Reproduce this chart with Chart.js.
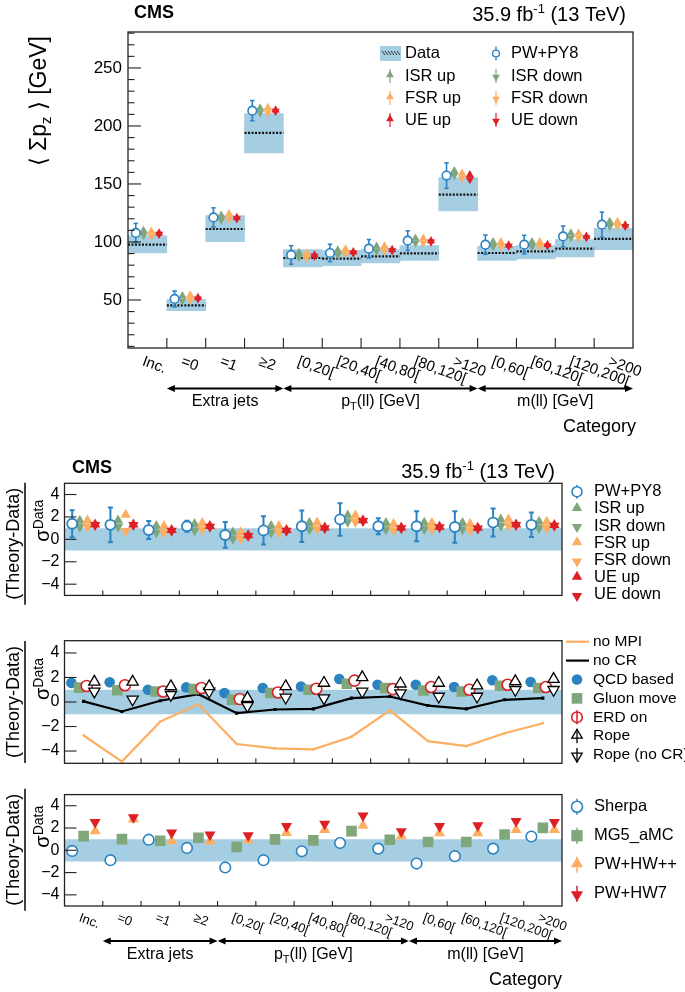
<!DOCTYPE html>
<html>
<head>
<meta charset="utf-8">
<script src="https://cdn.jsdelivr.net/npm/chart.js@4.4.1/dist/chart.umd.min.js"></script>
<style>
  body { margin: 0; background: #fff; }
  #wrap { position: relative; width: 685px; height: 992px; }
  canvas { position: absolute; left: 0; }
</style>
</head>
<body>
<div id="wrap">
  <canvas id="main" width="685" height="440" style="top:0px"></canvas>
  <canvas id="r1" width="685" height="170" style="top:440px"></canvas>
  <canvas id="r2" width="685" height="170" style="top:610px"></canvas>
  <canvas id="r3" width="685" height="212" style="top:780px"></canvas>
</div>
<script>
// ---- categories / tick labels ----
const categories = ['Inc.', '=0', '=1', '\u22652', '[0,20[', '[20,40[', '[40,80[', '[80,120[', '>120', '[0,60[', '[60,120[', '[120,200[', '>200'];
const groupNames = ['Extra jets', 'pT(ll) [GeV]', 'm(ll) [GeV]'];
const groupFrom = [1, 4, 9];
const groupTo = [4, 9, 13];
const topTicks = [50, 100, 150, 200, 250];
const ratioTicks = [-4, -2, 0, 2, 4];
const sigmaBand = [-1, 1];

// ---- top panel: <sum pz> [GeV] ----
const dataVal = [97.7, 45.3, 111.2, 194.0, 86.2, 85.6, 87.6, 90.2, 140.8, 90.5, 91.9, 94.2, 102.6];
const dataLo  = [90.5, 40.8, 100.3, 176.7, 78.4, 79.6, 81.9, 84.1, 126.7, 84.1, 85.3, 87.1, 93.4];
const dataHi  = [105.2, 50.3, 122.7, 210.6, 93.4, 92.5, 93.4, 96.8, 155.4, 96.2, 96.8, 102.0, 111.7];
const pwpy8    = [107.8, 50.9, 121.2, 213.2, 88.8, 90.5, 94.2, 101.1, 157.2, 97.7, 97.7, 104.8, 114.9];
const pwpy8Err = [8.2, 6.8, 8.2, 8.7, 8.0, 7.5, 7.9, 8.5, 11.0, 8.3, 8.0, 8.9, 10.8];
const isrUp   = [109.8, 53.5, 123.0, 215.4, 90.8, 93.0, 96.2, 103.1, 161.3, 100.1, 100.1, 107.6, 117.5];
const isrDown = [105.8, 49.5, 119.0, 211.4, 86.8, 89.0, 92.2, 99.1, 157.3, 96.1, 96.1, 103.6, 113.5];
const fsrUp   = [109.2, 54.3, 124.3, 215.9, 90.2, 93.9, 96.5, 103.1, 159.2, 100.1, 100.1, 107.6, 117.5];
const fsrDown = [105.2, 50.3, 119.8, 211.4, 86.2, 89.9, 92.5, 99.1, 155.2, 96.1, 96.1, 103.6, 113.5];
const ueUp    = [107.7, 52.0, 121.0, 213.7, 88.7, 91.5, 93.5, 101.0, 157.8, 97.4, 97.7, 104.8, 114.5];
const ueDown  = [106.7, 51.0, 120.0, 212.7, 87.7, 90.5, 92.5, 100.0, 153.8, 96.4, 96.7, 103.8, 113.5];

// ---- ratio panel 1: PW+PY8 and variations ----
const rPw      = [1.39, 1.30, 0.83, 1.17, 0.39, 0.80, 1.17, 1.78, 1.17, 1.17, 1.10, 1.50, 1.30];
const rPwErr   = [1.20, 1.55, 0.80, 0.50, 1.15, 1.25, 1.40, 1.45, 0.72, 1.33, 1.40, 1.25, 1.10];
const rIsrUp   = [1.67, 1.68, 1.18, 1.38, 0.61, 1.18, 1.45, 2.13, 1.45, 1.48, 1.45, 1.78, 1.58];
const rIsrDown = [1.11, 1.12, 0.62, 0.82, 0.05, 0.62, 0.89, 1.57, 0.89, 0.92, 0.89, 1.22, 1.02];
const rFsrUp   = [1.68, 2.20, 1.18, 1.45, 0.63, 1.18, 1.50, 2.13, 1.38, 1.45, 1.38, 1.78, 1.58];
const rFsrDown = [1.12, 0.75, 0.62, 0.89, 0.07, 0.62, 0.94, 1.57, 0.82, 0.89, 0.82, 1.22, 1.02];
const rUeUp    = [1.33, 1.33, 0.83, 1.18, 0.36, 0.83, 1.06, 1.70, 1.06, 1.13, 1.03, 1.33, 1.28];
const rUeDown  = [1.27, 1.27, 0.77, 1.12, 0.30, 0.77, 1.00, 1.64, 1.00, 1.07, 0.97, 1.27, 1.22];

// ---- ratio panel 2: colour reconnection / MPI ----
const noMPI    = [-2.73, -4.86, -1.60, -0.18, -3.43, -3.78, -3.86, -2.83, -0.69, -3.19, -3.60, -2.55, -1.73];
const noCR     = [0.05, -0.77, 0.10, 0.64, -0.91, -0.61, -0.56, 0.32, 0.45, -0.29, -0.56, 0.18, 0.32];
const qcdBased = [1.56, 1.61, 1.00, 1.19, 0.73, 1.14, 1.27, 1.87, 1.41, 1.41, 1.22, 1.77, 1.63];
const gluonMove= [1.17, 0.96, 0.86, 1.05, 0.18, 0.73, 1.00, 1.49, 1.14, 0.94, 0.86, 1.33, 1.14];
const erdOn    = [1.31, 1.37, 0.86, 1.14, 0.24, 0.78, 1.08, 1.74, 1.05, 1.22, 1.00, 1.41, 1.22];
const rope     = [1.64, 1.64, 1.27, 1.27, 0.32, 1.27, 1.55, 2.01, 1.49, 1.55, 1.33, 1.68, 1.87];
const ropeNoCR = [0.87, 0.22, 0.59, 0.86, -0.31, 0.37, 0.32, 0.86, 0.73, 0.45, 0.45, 1.00, 1.00];

// ---- ratio panel 3: other generators ----
const sherpa = [-0.06, -0.89, 0.95, 0.21, -1.54, -0.89, -0.09, 0.65, 0.15, -1.19, -0.53, 0.15, 1.24];
const mg5    = [1.27, 1.00, 0.86, 1.13, 0.30, 0.98, 0.89, 1.72, 0.95, 0.74, 0.74, 1.42, 2.01];
const pwHwpp = [1.72, 2.78, 0.83, 0.80, 0.89, 1.57, 1.84, 2.22, 1.27, 1.54, 1.54, 1.84, 1.84];
const pwHw7  = [2.52, 2.96, 1.57, 1.39, 1.33, 2.16, 2.37, 3.11, 1.69, 2.16, 2.22, 2.61, 2.52];

const FONT = '"Liberation Sans", Arial, Helvetica, sans-serif';
const W = 685;
const C = {
  band: '#a6cee3',
  blue: '#2b83c2',
  green: '#7fa77b',
  orange: '#fdae61',
  red: '#dd1f26',
  frame: '#222'
};

function pts(vals, off) {
  return vals.map((v, i) => ({ x: i + off, y: v }));
}

function marker(label, vals, off, style, r, fill, stroke, bw, rot) {
  return {
    type: 'line', label: label, data: pts(vals, off), showLine: false,
    pointStyle: style, pointRadius: r, pointRotation: rot || 0,
    pointBackgroundColor: fill, pointBorderColor: stroke, pointBorderWidth: bw
  };
}

function errBars(vals, errs, off, color, lw, cap) {
  const d = [];
  vals.forEach((v, i) => {
    d.push({ x: i + off, y: v - errs[i] }, { x: i + off, y: v + errs[i] }, { x: i + off, y: null });
  });
  return {
    type: 'line', data: d, borderColor: color, borderWidth: lw, spanGaps: false,
    pointStyle: 'line', pointRadius: cap, pointBorderWidth: lw, pointBorderColor: color
  };
}

function curve(vals, color, lw, pr) {
  return {
    type: 'line', data: pts(vals, 0.5), borderColor: color, borderWidth: lw,
    pointStyle: 'rect', pointRadius: pr, pointBackgroundColor: color, pointBorderWidth: 0, tension: 0
  };
}

function band() {
  return {
    type: 'line', data: [{ x: 0, y: sigmaBand[1] }, { x: 13, y: sigmaBand[1] }],
    fill: { value: sigmaBand[0] }, backgroundColor: C.band, borderWidth: 0, pointRadius: 0
  };
}

function baseOptions(H, a, yOpts) {
  const y = Object.assign({
    type: 'linear',
    grid: { display: false, drawTicks: false },
    border: { display: false },
    afterFit: s => { s.width = a.left; }
  }, yOpts);
  return {
    responsive: false, animation: false, devicePixelRatio: 1, events: [],
    layout: { padding: { left: 0, top: a.top, right: W - a.right, bottom: H - a.bottom } },
    plugins: { legend: { display: false }, tooltip: { enabled: false } },
    scales: { x: { type: 'linear', min: 0, max: 13, display: false, offset: false }, y: y }
  };
}

function line(ctx, x1, y1, x2, y2) {
  ctx.beginPath(); ctx.moveTo(x1, y1); ctx.lineTo(x2, y2); ctx.stroke();
}

// text made of pieces: [text, font, dy]
function rich(ctx, x, y, parts, align) {
  ctx.textAlign = 'left';
  let w = 0;
  parts.forEach(p => { ctx.font = p[1]; w += ctx.measureText(p[0]).width; });
  let cx = align === 'right' ? x - w : align === 'center' ? x - w / 2 : x;
  parts.forEach(p => {
    ctx.font = p[1];
    ctx.fillText(p[0], cx, y + (p[2] || 0));
    cx += ctx.measureText(p[0]).width;
  });
}

function sym(ctx, style, x, y, r, fill, stroke, bw) {
  ctx.save();
  ctx.beginPath();
  if (style === 'circle') {
    ctx.arc(x, y, r, 0, Math.PI * 2);
  } else if (style === 'rect') {
    const s = r * Math.SQRT1_2;
    ctx.rect(x - s, y - s, 2 * s, 2 * s);
  } else {
    const dir = style === 'up' ? 1 : -1;
    ctx.moveTo(x, y - dir * r);
    ctx.lineTo(x + r * 0.866, y + dir * r / 2);
    ctx.lineTo(x - r * 0.866, y + dir * r / 2);
    ctx.closePath();
  }
  if (fill) { ctx.fillStyle = fill; ctx.fill(); }
  if (bw) { ctx.lineWidth = bw; ctx.strokeStyle = stroke; ctx.stroke(); }
  ctx.restore();
}

const framePlugin = {
  id: 'frame',
  afterDraw(chart, args, o) {
    const { ctx, chartArea: a, scales: { x, y } } = chart;
    ctx.save();
    ctx.strokeStyle = C.frame;
    ctx.lineWidth = 1.3;
    ctx.strokeRect(a.left, a.top, a.right - a.left, a.bottom - a.top);
    ctx.lineWidth = 1.1;
    for (let i = 1; i < categories.length; i++) {
      const px = x.getPixelForValue(i);
      line(ctx, px, a.bottom, px, a.bottom - o.xTick);
    }
    o.major.forEach(v => { const py = y.getPixelForValue(v); line(ctx, a.left, py, a.left + o.yMajor, py); });
    (o.minor || []).forEach(v => { const py = y.getPixelForValue(v); line(ctx, a.left, py, a.left + o.yMinor, py); });
    ctx.restore();
  }
};

function drawCategoryAxis(chart, c) {
  const { ctx, scales: { x } } = chart;
  ctx.save();
  ctx.fillStyle = '#000';
  ctx.font = c.catFont + 'px ' + FONT;
  ctx.textBaseline = 'top';
  ctx.textAlign = 'left';
  categories.forEach((t, i) => {
    const px = x.getPixelForValue(i + 0.5);
    ctx.save();
    ctx.translate(px - 2, c.catTop);
    ctx.rotate(20 * Math.PI / 180);
    ctx.fillText(t, 0, 0);
    ctx.restore();
  });
  ctx.strokeStyle = '#000';
  ctx.lineWidth = 2;
  ctx.textBaseline = 'middle';
  groupNames.forEach((g, k) => {
    const x1 = x.getPixelForValue(groupFrom[k]);
    const x2 = x.getPixelForValue(groupTo[k]);
    line(ctx, x1 + 3, c.arrowY, x2 - 3, c.arrowY);
    [[x1, 1], [x2, -1]].forEach(([xx, d]) => {
      ctx.beginPath();
      ctx.moveTo(xx, c.arrowY);
      ctx.lineTo(xx + d * 8, c.arrowY - 3.5);
      ctx.lineTo(xx + d * 8, c.arrowY + 3.5);
      ctx.closePath();
      ctx.fill();
    });
    const f = '16px ' + FONT, fs = '11px ' + FONT;
    const parts = g.indexOf('pT') === 0 ? [['p', f], ['T', fs, 5], [g.slice(2), f]] : [[g, f]];
    rich(ctx, (x1 + x2) / 2, c.groupY, parts, 'center');
  });
  ctx.textBaseline = 'middle';
  ctx.font = '18px ' + FONT;
  ctx.textAlign = 'right';
  ctx.fillText('Category', c.catRight, c.categoryY);
  ctx.restore();
}

function ratioTitle(ctx, yc) {
  ctx.save();
  ctx.fillStyle = '#000';
  ctx.strokeStyle = '#000';
  ctx.translate(0, yc);
  ctx.rotate(-Math.PI / 2);
  ctx.textBaseline = 'alphabetic';
  rich(ctx, 0, 19, [['(Theory-Data)', '18px ' + FONT]], 'center');
  ctx.lineWidth = 1.5;
  line(ctx, -61, 25, 61, 25);
  rich(ctx, 2, 49, [['\u03c3', '20px ' + FONT], ['Data', '14px ' + FONT, -6]], 'left');
  ctx.restore();
}

function legendRows(ctx, rows, mx, tx, y0, dy, fpx) {
  ctx.save();
  ctx.fillStyle = '#000';
  ctx.textBaseline = 'middle';
  rows.forEach((r, k) => {
    const y = y0 + k * dy;
    r.draw(ctx, mx, y);
    ctx.fillStyle = '#000';
    ctx.font = (fpx || 16.5) + 'px ' + FONT;
    ctx.textAlign = 'left';
    ctx.fillText(r.t, tx, y);
  });
  ctx.restore();
}

function yRatio() {
  return {
    min: -5, max: 5,
    afterBuildTicks: s => { s.ticks = ratioTicks.map(v => ({ value: v })); },
    ticks: { padding: 5, color: '#000', font: { family: FONT, size: 16 },
      callback: v => (v < 0 ? '\u2212' + Math.abs(v) : '' + v) }
  };
}

function lumi(ctx, x, y) {
  rich(ctx, x, y, [['35.9 fb', '20px ' + FONT], ['-1', '13px ' + FONT, -8], [' (13 TeV)', '20px ' + FONT]], 'right');
}

// ================= top panel =================
const topArea = { left: 128, right: 633, top: 32, bottom: 348 };
const topOpts = baseOptions(440, topArea, {
  min: 8.6, max: 281,
  afterBuildTicks: s => { s.ticks = topTicks.map(v => ({ value: v })); },
  ticks: { padding: 6, color: '#000', font: { family: FONT, size: 17 } }
});
const topMinor = [];
for (let v = 10; v <= 280; v += 10) if (v % 50) topMinor.push(v);
topOpts.plugins.frame = { xTick: 10, major: topTicks, minor: topMinor, yMajor: 13, yMinor: 6.5 };

const dataLine = [];
dataVal.forEach((v, i) => dataLine.push({ x: i, y: v }, { x: i + 1, y: v }, { x: i + 1, y: null }));

new Chart(document.getElementById('main'), {
  type: 'scatter',
  data: {
    datasets: [
      marker('PW+PY8', pwpy8, 0.2, 'circle', 4.3, '#fff', C.blue, 1.6),
      errBars(pwpy8, pwpy8Err, 0.2, C.blue, 1.6, 2.2),
      marker('UE up', ueUp, 0.8, 'triangle', 4.8, C.red, C.red, 0),
      marker('UE down', ueDown, 0.8, 'triangle', 4.8, C.red, C.red, 0, 180),
      marker('FSR up', fsrUp, 0.6, 'triangle', 4.8, C.orange, C.orange, 0),
      marker('FSR down', fsrDown, 0.6, 'triangle', 4.8, C.orange, C.orange, 0, 180),
      marker('ISR up', isrUp, 0.4, 'triangle', 4.8, C.green, C.green, 0),
      marker('ISR down', isrDown, 0.4, 'triangle', 4.8, C.green, C.green, 0, 180),
      { type: 'line', label: 'Data', data: dataLine, borderColor: '#111', borderWidth: 2.2,
        borderDash: [2, 1.5], pointRadius: 0, spanGaps: false },
      { type: 'bar', data: dataLo.map((lo, i) => ({ x: i + 0.5, y: [lo, dataHi[i]] })),
        backgroundColor: C.band, borderWidth: 0, barPercentage: 1, categoryPercentage: 1 }
    ]
  },
  options: topOpts,
  plugins: [framePlugin, {
    id: 'topText',
    afterDraw(chart) {
      const ctx = chart.ctx;
      ctx.save();
      ctx.fillStyle = '#000';
      ctx.textBaseline = 'alphabetic';
      rich(ctx, 134, 18, [['CMS', 'bold 18px ' + FONT]], 'left');
      lumi(ctx, 626, 21);
      // y title
      ctx.save();
      ctx.translate(46, 36);
      ctx.rotate(-Math.PI / 2);
      rich(ctx, 0, 0, [['\u27e8 \u03a3p', '23px ' + FONT], ['z', '15px ' + FONT, 5], [' \u27e9 [GeV]', '23px ' + FONT]], 'right');
      ctx.restore();
      // legend
      ctx.fillStyle = C.band;
      ctx.fillRect(380, 46, 21, 15);
      ctx.strokeStyle = '#333';
      ctx.lineWidth = 1;
      for (let k = 0; k < 6; k++) line(ctx, 382 + k * 3, 51, 385 + k * 3, 55);
      const leg = [
        [390, 53.5, 'Data', null],
        [496, 53.5, 'PW+PY8', 'pw'],
        [390, 76, 'ISR up', ['up', C.green]],
        [496, 76, 'ISR down', ['down', C.green]],
        [390, 98, 'FSR up', ['up', C.orange]],
        [496, 98, 'FSR down', ['down', C.orange]],
        [390, 120, 'UE up', ['up', C.red]],
        [496, 120, 'UE down', ['down', C.red]]
      ];
      leg.forEach(([mx, my, t, m]) => {
        if (m === 'pw') {
          ctx.strokeStyle = C.blue; ctx.lineWidth = 1.4;
          line(ctx, mx, my - 7, mx, my + 7);
          sym(ctx, 'circle', mx, my, 3.4, '#fff', C.blue, 1.4);
        } else if (m) {
          ctx.strokeStyle = m[1]; ctx.lineWidth = 1.2;
          line(ctx, mx, my - 7, mx, my + 7);
          sym(ctx, m[0], mx, my + (m[0] === 'up' ? -1 : 1), 4.5, m[1], m[1], 0);
        }
        ctx.fillStyle = '#000';
        ctx.textBaseline = 'middle';
        rich(ctx, mx + 15, my, [[t, '16.5px ' + FONT]], 'left');
      });
      ctx.restore();
      drawCategoryAxis(chart, { catFont: 15, catTop: 354, arrowY: 388.5, groupY: 402, catRight: 636, categoryY: 427 });
    }
  }]
});

// ================= ratio panel 1 =================
const r1Area = { left: 64.5, right: 562, top: 43.3, bottom: 164 };
const r1Opts = baseOptions(170, r1Area, yRatio());
r1Opts.plugins.frame = { xTick: 5, major: ratioTicks, yMajor: 12 };
new Chart(document.getElementById('r1'), {
  type: 'scatter',
  data: {
    datasets: [
      marker('PW+PY8', rPw, 0.2, 'circle', 5, '#fff', C.blue, 1.8),
      errBars(rPw, rPwErr, 0.2, C.blue, 2, 2.5),
      marker('UE up', rUeUp, 0.8, 'triangle', 6, C.red, C.red, 0),
      marker('UE down', rUeDown, 0.8, 'triangle', 6, C.red, C.red, 0, 180),
      marker('FSR up', rFsrUp, 0.6, 'triangle', 6, C.orange, C.orange, 0),
      marker('FSR down', rFsrDown, 0.6, 'triangle', 6, C.orange, C.orange, 0, 180),
      marker('ISR up', rIsrUp, 0.4, 'triangle', 6, C.green, C.green, 0),
      marker('ISR down', rIsrDown, 0.4, 'triangle', 6, C.green, C.green, 0, 180),
      band()
    ]
  },
  options: r1Opts,
  plugins: [framePlugin, {
    id: 'r1Text',
    afterDraw(chart) {
      const ctx = chart.ctx;
      ctx.save();
      ctx.fillStyle = '#000';
      ctx.textBaseline = 'alphabetic';
      rich(ctx, 72, 33, [['CMS', 'bold 18px ' + FONT]], 'left');
      lumi(ctx, 555, 38);
      ctx.restore();
      ratioTitle(ctx, 103.7);
      const tri = (st, col) => (c, x, y) => sym(c, st, x, y + (st === 'up' ? -1 : 1), 6, col, col, 0);
      legendRows(ctx, [
        { t: 'PW+PY8', draw: (c, x, y) => { c.strokeStyle = C.blue; c.lineWidth = 1.5; line(c, x, y - 7, x, y + 7); sym(c, 'circle', x, y, 5, '#fff', C.blue, 1.6); } },
        { t: 'ISR up', draw: tri('up', C.green) },
        { t: 'ISR down', draw: tri('down', C.green) },
        { t: 'FSR up', draw: tri('up', C.orange) },
        { t: 'FSR down', draw: tri('down', C.orange) },
        { t: 'UE up', draw: tri('up', C.red) },
        { t: 'UE down', draw: tri('down', C.red) }
      ], 577, 594, 51.7, 17.2, 16.5);
    }
  }]
});

// ================= ratio panel 2 =================
const r2Area = { left: 64.5, right: 562, top: 30.7, bottom: 153.3 };
const r2Opts = baseOptions(170, r2Area, yRatio());
r2Opts.plugins.frame = { xTick: 5, major: ratioTicks, yMajor: 12 };
new Chart(document.getElementById('r2'), {
  type: 'scatter',
  data: {
    datasets: [
      marker('Rope', rope, 0.78, 'triangle', 6.5, '#fff', '#000', 1.3),
      marker('Rope (no CR)', ropeNoCR, 0.78, 'triangle', 6.5, '#fff', '#000', 1.3, 180),
      marker('ERD on', erdOn, 0.58, 'circle', 5.5, '#fff', C.red, 1.6),
      marker('Gluon move', gluonMove, 0.38, 'rect', 7.5, C.green, C.green, 0),
      marker('QCD based', qcdBased, 0.18, 'circle', 5.3, C.blue, C.blue, 0),
      curve(noCR, '#000', 2.2, 2.2),
      curve(noMPI, C.orange, 2.2, 1.6),
      band()
    ]
  },
  options: r2Opts,
  plugins: [framePlugin, {
    id: 'r2Text',
    afterDraw(chart) {
      const ctx = chart.ctx;
      ratioTitle(ctx, 92);
      legendRows(ctx, [
        { t: 'no MPI', draw: (c, x, y) => { c.strokeStyle = C.orange; c.lineWidth = 2.2; line(c, x - 11, y, x + 12, y); } },
        { t: 'no CR', draw: (c, x, y) => { c.strokeStyle = '#000'; c.lineWidth = 2.2; line(c, x - 11, y, x + 12, y); } },
        { t: 'QCD based', draw: (c, x, y) => sym(c, 'circle', x, y, 5.3, C.blue, C.blue, 0) },
        { t: 'Gluon move', draw: (c, x, y) => sym(c, 'rect', x, y, 7.5, C.green, C.green, 0) },
        { t: 'ERD on', draw: (c, x, y) => { c.strokeStyle = C.red; c.lineWidth = 1.5; line(c, x, y - 7, x, y + 7); sym(c, 'circle', x, y, 5.3, null, C.red, 1.6); } },
        { t: 'Rope', draw: (c, x, y) => { c.strokeStyle = '#000'; c.lineWidth = 1.3; line(c, x, y - 7, x, y + 7); sym(c, 'up', x, y - 1, 6, null, '#000', 1.3); } },
        { t: 'Rope (no CR)', draw: (c, x, y) => { c.strokeStyle = '#000'; c.lineWidth = 1.3; line(c, x, y - 7, x, y + 7); sym(c, 'down', x, y + 1, 6, null, '#000', 1.3); } }
      ], 577, 593, 31.7, 18.9, 15.5);
    }
  }]
});

// ================= ratio panel 3 =================
const r3Area = { left: 64.5, right: 562, top: 13.3, bottom: 126 };
const r3Opts = baseOptions(212, r3Area, yRatio());
r3Opts.plugins.frame = { xTick: 5, major: ratioTicks, yMajor: 12 };
new Chart(document.getElementById('r3'), {
  type: 'scatter',
  data: {
    datasets: [
      marker('PW+HW7', pwHw7, 0.8, 'triangle', 6.4, C.red, C.red, 0, 180),
      marker('PW+HW++', pwHwpp, 0.8, 'triangle', 6.4, C.orange, C.orange, 0),
      marker('MG5_aMC', mg5, 0.5, 'rect', 7.5, C.green, C.green, 0),
      marker('Sherpa', sherpa, 0.2, 'circle', 5.3, '#fff', C.blue, 1.6),
      band()
    ]
  },
  options: r3Opts,
  plugins: [framePlugin, {
    id: 'r3Text',
    afterDraw(chart) {
      const ctx = chart.ctx;
      ratioTitle(ctx, 69.7);
      legendRows(ctx, [
        { t: 'Sherpa', draw: (c, x, y) => { c.strokeStyle = C.blue; c.lineWidth = 1.5; line(c, x, y - 8, x, y + 8); sym(c, 'circle', x, y, 5.5, '#fff', C.blue, 1.6); } },
        { t: 'MG5_aMC', draw: (c, x, y) => { c.strokeStyle = C.green; c.lineWidth = 1.5; line(c, x, y - 8, x, y + 8); sym(c, 'rect', x, y, 8, C.green, C.green, 0); } },
        { t: 'PW+HW++', draw: (c, x, y) => { c.strokeStyle = C.orange; c.lineWidth = 1.5; line(c, x, y - 8, x, y + 8); sym(c, 'up', x, y - 1, 7, C.orange, C.orange, 0); } },
        { t: 'PW+HW7', draw: (c, x, y) => { c.strokeStyle = C.red; c.lineWidth = 1.5; line(c, x, y - 8, x, y + 8); sym(c, 'down', x, y + 1, 7, C.red, C.red, 0); } }
      ], 577, 594, 26.7, 29, 16.5);
      drawCategoryAxis(chart, { catFont: 13, catTop: 131.5, arrowY: 161, groupY: 175, catRight: 562, categoryY: 200 });
    }
  }]
});
</script>
</body>
</html>
